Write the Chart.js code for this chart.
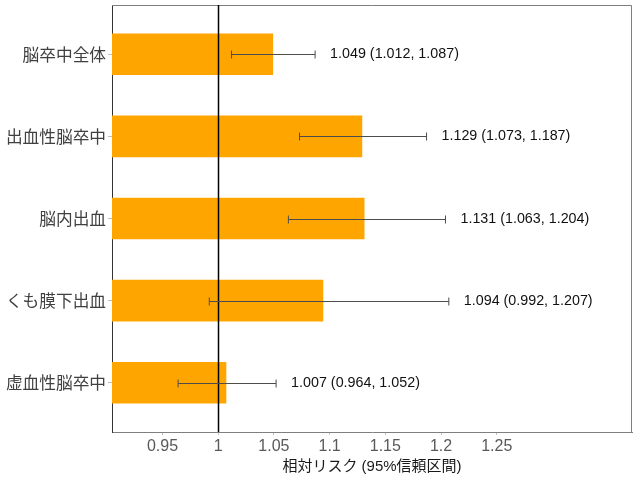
<!DOCTYPE html>
<html>
<head>
<meta charset="utf-8">
<script src="https://cdn.jsdelivr.net/npm/chart.js@4/dist/chart.umd.min.js"></script>
<style>
html,body{margin:0;padding:0;background:#fff;}
#wrap{width:637px;height:477px;position:relative;}
</style>
</head>
<body>
<div id="wrap"><canvas id="c"></canvas></div>
<script>
const categories = ['脳卒中全体','出血性脳卒中','脳内出血','くも膜下出血','虚血性脳卒中'];
const relativeRisk = [1.049, 1.129, 1.131, 1.094, 1.007];
const lowerCI = [1.012, 1.073, 1.063, 0.992, 0.964];
const upperCI = [1.087, 1.187, 1.204, 1.207, 1.052];
const xTickValues = [0.95, 1, 1.05, 1.1, 1.15, 1.2, 1.25];
const referenceValue = 1;
const xAxisTitle = '相対リスク (95%信頼区間)';

const X_MIN = 0.9047, X_MAX = 1.3714;
const LATIN = '"Liberation Sans", Arial, "Noto Sans CJK JP", sans-serif';
const CJK = '"Noto Sans CJK JP", "Liberation Sans", sans-serif';

const fmt = v => v.toFixed(3);

const overlay = {
  id: 'overlay',
  afterDatasetsDraw(chart) {
    const {ctx, chartArea: a, scales: {x, y}} = chart;
    ctx.save();
    // box
    ctx.strokeStyle = '#7f7f7f';
    ctx.lineWidth = 1;
    ctx.beginPath();
    ctx.moveTo(a.left, a.top + 0.5);
    ctx.lineTo(a.right - 0.5, a.top + 0.5);
    ctx.lineTo(a.right - 0.5, a.bottom);
    ctx.stroke();
    // reference line
    const xr = Math.round(x.getPixelForValue(referenceValue)) + 0.5;
    ctx.strokeStyle = '#000';
    ctx.lineWidth = 1.5;
    ctx.beginPath();
    ctx.moveTo(xr, a.top);
    ctx.lineTo(xr, a.bottom);
    ctx.stroke();
    // error bars and labels
    ctx.strokeStyle = '#4d4d4d';
    ctx.lineWidth = 1;
    ctx.font = '14.3px ' + LATIN;
    ctx.fillStyle = '#111';
    ctx.textBaseline = 'middle';
    ctx.textAlign = 'left';
    categories.forEach((c, i) => {
      const yc = Math.round(y.getPixelForValue(i)) + 0.5;
      const x1 = x.getPixelForValue(lowerCI[i]);
      const x2 = x.getPixelForValue(upperCI[i]);
      ctx.beginPath();
      ctx.moveTo(x1, yc); ctx.lineTo(x2, yc);
      ctx.moveTo(x1, yc - 4); ctx.lineTo(x1, yc + 4);
      ctx.moveTo(x2, yc - 4); ctx.lineTo(x2, yc + 4);
      ctx.stroke();
      ctx.fillText(fmt(relativeRisk[i]) + ' (' + fmt(lowerCI[i]) + ', ' + fmt(upperCI[i]) + ')', x2 + 15, yc);
    });
    ctx.restore();
  }
};

new Chart(document.getElementById('c'), {
  type: 'bar',
  data: {
    datasets: [{
      data: relativeRisk.map((v, i) => ({y: i, x: [X_MIN, v]})),
      backgroundColor: '#FFA500',
      borderWidth: 0,
      barThickness: 41
    }]
  },
  options: {
    indexAxis: 'y',
    responsive: true,
    maintainAspectRatio: false,
    devicePixelRatio: 1,
    animation: false,
    layout: {padding: {top: 5, right: 5, left: 0, bottom: 0}},
    plugins: {legend: {display: false}, tooltip: {enabled: false}},
    scales: {
      x: {
        type: 'linear',
        min: X_MIN,
        max: X_MAX,
        offset: false,
        afterBuildTicks: s => { s.ticks = xTickValues.map(v => ({value: v})); },
        afterFit: s => { s.height = 45; s.paddingLeft = 0; s.paddingRight = 0; },
        grid: {drawOnChartArea: false, drawTicks: true, tickLength: 3, color: '#bfbfbf'},
        border: {color: '#7f7f7f', width: 1},
        ticks: {
          color: '#595959',
          font: {family: LATIN, size: 16},
          padding: 2,
          maxRotation: 0,
          autoSkip: false,
          callback: v => String(v)
        },
        title: {
          display: true,
          text: xAxisTitle,
          color: '#1a1a1a',
          font: {family: LATIN, size: 15},
          padding: {top: 0, bottom: 1}
        }
      },
      y: {
        type: 'linear',
        reverse: true,
        offset: false,
        min: -0.6,
        max: 4.6,
        afterBuildTicks: s => { s.ticks = categories.map((c, i) => ({value: i})); },
        afterFit: s => { s.width = 112; s.paddingTop = 0; s.paddingBottom = 0; },
        grid: {drawOnChartArea: false, drawTicks: true, tickLength: 4, color: '#bfbfbf', offset: false},
        border: {color: '#333', width: 1},
        ticks: {
          color: '#404040',
          font: {family: CJK, size: 16.7},
          padding: 2,
          autoSkip: false,
          callback: v => categories[v] ?? ''
        }
      }
    }
  },
  plugins: [overlay]
});
</script>
</body>
</html>
